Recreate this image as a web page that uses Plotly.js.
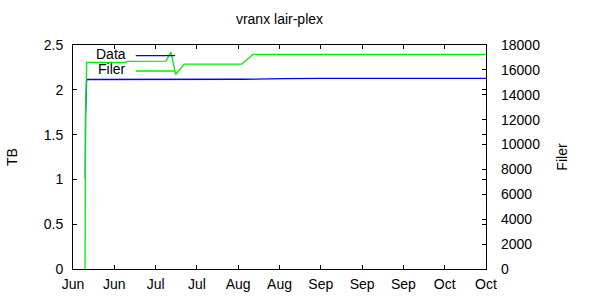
<!DOCTYPE html>
<html>
<head>
<meta charset="utf-8">
<script src="https://cdn.plot.ly/plotly-3.0.1.min.js"></script>
<style>html,body{margin:0;padding:0;background:#fff}#chart{width:600px;height:300px}</style>
</head>
<body>
<div id="chart"></div>
<script>
// Data (TB) series
const dataDates = ["2012-06-13 04:00","2012-06-13 06:00","2012-06-13 15:00","2012-06-26 12:00","2012-06-27 12:00","2012-08-04 12:00","2012-08-05 12:00","2012-08-20 00:00","2012-09-01 00:00","2012-10-27 00:00"];
const dataTB = [1.01, 1.70, 2.115, 2.115, 2.12, 2.12, 2.118, 2.124, 2.128, 2.128];
// Filer series
const filerDates = ["2012-06-13 02:00","2012-06-13 04:00","2012-06-13 06:00","2012-06-13 15:00","2012-06-26 12:00","2012-06-27 12:00","2012-07-10 12:00","2012-07-12 05:00","2012-07-13 19:00","2012-07-16 17:00","2012-08-05 05:00","2012-08-09 00:00","2012-10-27 00:00"];
const filerCount = [0, 8000, 12100, 16600, 16600, 16690, 16700, 17430, 15630, 16460, 16460, 17240, 17240];
// Axis settings
const xStart = "2012-06-09";
const xEnd = "2012-10-27";
const tbTicks = [0, 0.5, 1, 1.5, 2, 2.5];
const filerTicks = [0, 2000, 4000, 6000, 8000, 10000, 12000, 14000, 16000, 18000];
const seriesNames = ["Data", "Filer"];

const font = {family: "Liberation Sans, Arial, sans-serif", size: 14, color: "#000"};
const blue = "#0000ff";
const green = "#00ee00";

const traces = [
  {x: dataDates, y: dataTB, type: "scatter", mode: "lines", name: seriesNames[0],
   line: {color: blue, width: 1.3}, yaxis: "y", showlegend: false},
  {x: filerDates, y: filerCount, type: "scatter", mode: "lines", name: seriesNames[1],
   line: {color: green, width: 1.3}, yaxis: "y2", showlegend: false}
];

const layout = {
  width: 600, height: 300,
  margin: {l: 73, r: 114, t: 45, b: 31, pad: 0},
  paper_bgcolor: "#fff", plot_bgcolor: "#fff",
  font: font,
  title: {text: "vranx lair-plex", x: 0.4658, xanchor: "center", y: 0.935, yanchor: "middle", font: font},
  xaxis: {
    type: "date", range: [xStart, xEnd], tick0: xStart, dtick: 14 * 86400000, tickformat: "%b",
    ticks: "inside", ticklen: 4, tickcolor: "#000", showline: true, linecolor: "#000", linewidth: 1,
    mirror: "ticks", showgrid: false, zeroline: false, ticklabelstandoff: 2, tickfont: font
  },
  yaxis: {
    range: [0, 2.5], tickvals: tbTicks, ticktext: tbTicks.map(String),
    ticks: "inside", ticklen: 4, tickcolor: "#000", showline: true, linecolor: "#000", linewidth: 1,
    mirror: "ticks", showgrid: false, zeroline: false, tickfont: font, ticklabelstandoff: 6,
    title: {text: "TB", font: font, standoff: 22}
  },
  yaxis2: {
    range: [0, 18000], tickvals: filerTicks, ticktext: filerTicks.map(String),
    overlaying: "y", side: "right", anchor: "x",
    ticks: "inside", ticklen: 4, tickcolor: "#000", showline: false,
    showgrid: false, zeroline: false, tickfont: font, ticklabelstandoff: 14,
    title: {text: "Filer", font: font, standoff: 18}
  },
  annotations: [
    {xref: "paper", yref: "paper", x: 0.1326, y: 0.958, xanchor: "right", yanchor: "middle", text: seriesNames[0], showarrow: false, font: font},
    {xref: "paper", yref: "paper", x: 0.1326, y: 0.893, xanchor: "right", yanchor: "middle", text: seriesNames[1], showarrow: false, font: font}
  ],
  shapes: [
    {type: "line", xref: "paper", yref: "paper", x0: 0.152, x1: 0.247, y0: 0.953, y1: 0.953, line: {color: blue, width: 1.3}},
    {type: "line", xref: "paper", yref: "paper", x0: 0.152, x1: 0.247, y0: 0.884, y1: 0.884, line: {color: green, width: 1.3}}
  ]
};

Plotly.newPlot("chart", traces, layout, {staticPlot: true, displayModeBar: false});
</script>
</body>
</html>
